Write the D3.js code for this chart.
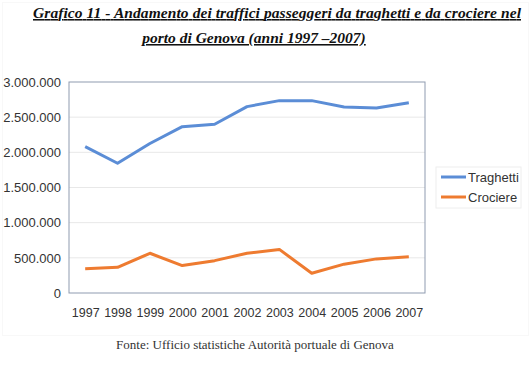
<!DOCTYPE html>
<html lang="it">
<head>
<meta charset="UTF-8">
<title>Grafico 11</title>
<script src="https://d3js.org/d3.v7.min.js"></script>
<style>
  body { margin: 0; background: #fff; }
  svg { display: block; }
</style>
</head>
<body>
<div id="chart"></div>
<script>
// data
const years = ["1997","1998","1999","2000","2001","2002","2003","2004","2005","2006","2007"];
const traghetti = [2080000, 1845000, 2125000, 2365000, 2400000, 2650000, 2735000, 2735000, 2645000, 2630000, 2705000];
const crociere = [345000, 365000, 565000, 390000, 460000, 565000, 620000, 280000, 410000, 485000, 515000];
const yTicks = [0, 500000, 1000000, 1500000, 2000000, 2500000, 3000000];
const seriesNames = ["Traghetti", "Crociere"];
const colors = ["#5b8dd6", "#ee7b30"];

const W = 531, H = 366;
const svg = d3.select("#chart").append("svg").attr("width", W).attr("height", H);

const margin = {top: 82, left: 69, right: 106, bottom: 73};
const width = W - margin.left - margin.right,
      height = H - margin.top - margin.bottom;

// faint outer frame
svg.append("rect")
    .attr("x", 2.5).attr("y", 2.5).attr("width", 526).attr("height", 333)
    .attr("fill", "none").attr("stroke", "#f0f0f0").attr("stroke-dasharray", "1,1");

// title
const title = svg.append("g")
    .style("font-family", "'Liberation Serif', 'Times New Roman', serif")
    .style("font-weight", "bold").style("font-style", "italic")
    .style("font-size", "15.5px").style("text-decoration", "underline")
    .attr("fill", "#111");
title.append("text").attr("x", 277).attr("y", 18).attr("text-anchor", "middle")
    .attr("textLength", 488).attr("lengthAdjust", "spacing")
    .text("Grafico 11 - Andamento dei traffici passeggeri da traghetti e da crociere  nel");
title.append("text").attr("x", 254).attr("y", 43).attr("text-anchor", "middle")
    .text("porto di Genova (anni 1997 \u20132007)");

const g = svg.append("g").attr("transform", `translate(${margin.left},${margin.top})`);

const x = d3.scalePoint().domain(years).range([0, width]).padding(0.5);
const y = d3.scaleLinear().domain([0, 3000000]).range([height, 0]);

// gridlines
g.selectAll(".grid").data(yTicks.slice(1, -1)).enter().append("line")
    .attr("x1", 0).attr("x2", width)
    .attr("y1", d => y(d)).attr("y2", d => y(d))
    .attr("stroke", "#e8e8e8").attr("stroke-width", 1);

// plot border
g.append("rect").attr("width", width).attr("height", height)
    .attr("fill", "none").attr("stroke", "#8f9bb0").attr("stroke-width", 1);

const fmt = d => d3.format(",")(d).replace(/,/g, ".");

// y axis
const yAxis = g.append("g").call(d3.axisLeft(y).tickValues(yTicks).tickFormat(fmt).tickSize(0).tickPadding(8));
yAxis.select(".domain").remove();
yAxis.selectAll("text").style("font-family", "'Liberation Sans', Arial, sans-serif")
    .style("font-size", "13px").attr("fill", "#333");

// x axis
const xAxis = g.append("g").attr("transform", `translate(0,${height})`)
    .call(d3.axisBottom(x).tickSize(0).tickPadding(15));
xAxis.select(".domain").remove();
xAxis.selectAll("text").style("font-family", "'Liberation Sans', Arial, sans-serif")
    .style("font-size", "12.5px").attr("fill", "#333");

// lines
const line = d3.line().x((d, i) => x(years[i])).y(d => y(d));
[traghetti, crociere].forEach((s, i) => {
  g.append("path").datum(s)
    .attr("fill", "none").attr("stroke", colors[i]).attr("stroke-width", 3)
    .attr("stroke-linejoin", "round").attr("d", line);
});

// legend
const lg = svg.append("g").attr("transform", "translate(436,167)");
lg.append("rect").attr("width", 85).attr("height", 41)
    .attr("fill", "#fff").attr("stroke", "#eee");
seriesNames.forEach((n, i) => {
  const yy = 10 + i * 20;
  lg.append("line").attr("x1", 5).attr("x2", 30).attr("y1", yy).attr("y2", yy)
    .attr("stroke", colors[i]).attr("stroke-width", 3);
  lg.append("text").attr("x", 32).attr("y", yy + 4.5)
    .style("font-family", "'Liberation Sans', Arial, sans-serif")
    .style("font-size", "13px").attr("fill", "#333").text(n);
});

// source
svg.append("text").attr("x", 255).attr("y", 349).attr("text-anchor", "middle")
    .style("font-family", "'Liberation Serif', 'Times New Roman', serif")
    .style("font-size", "13px").attr("fill", "#333")
    .text("Fonte: Ufficio statistiche Autorit\u00e0 portuale di Genova");
</script>
</body>
</html>
